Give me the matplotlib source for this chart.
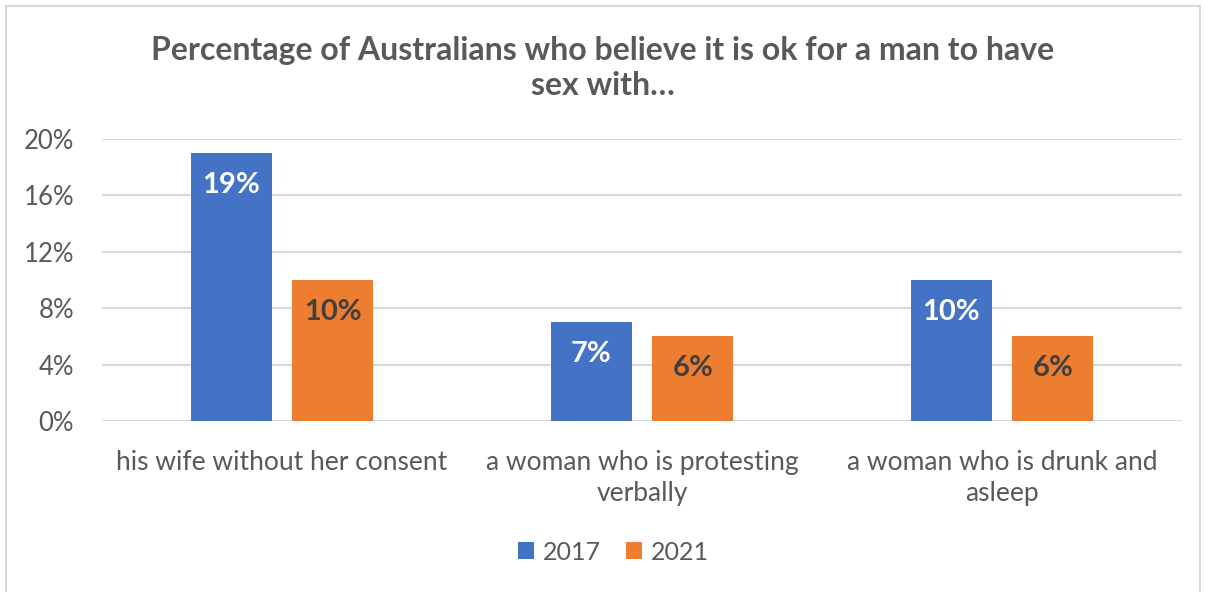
import matplotlib.pyplot as plt
import numpy as np
from matplotlib.patches import Rectangle

categories = ["his wife without her consent",
              "a woman who is protesting\nverbally",
              "a woman who is drunk and\nasleep"]
years = ["2017", "2021"]
values_2017 = [19, 7, 10]
values_2021 = [10, 6, 6]
yticks = [0, 4, 8, 12, 16, 20]

blue = "#4472C4"
orange = "#ED7D31"
gray = "#595959"

plt.rcParams['font.family'] = ['Lato', 'DejaVu Sans']

fig = plt.figure(figsize=(12.05, 5.92), dpi=100)
ax = fig.add_axes([102 / 1205, 1 - 421 / 592, 1080 / 1205, 282 / 592])

x = np.arange(len(categories))
w = 0.225
off = 0.141
b1 = ax.bar(x - off, values_2017, w, color=blue, label=years[0], zorder=3)
b2 = ax.bar(x + off, values_2021, w, color=orange, label=years[1], zorder=3)

for rect, v in zip(b1, values_2017):
    ax.text(rect.get_x() + rect.get_width() / 2, v - 2.25, f"{v}%", ha="center", va="center",
            color="white", fontsize=21, fontweight="bold", zorder=4)
for rect, v in zip(b2, values_2021):
    ax.text(rect.get_x() + rect.get_width() / 2, v - 2.25, f"{v}%", ha="center", va="center",
            color="#404040", fontsize=21, fontweight="bold", zorder=4)

ax.set_xlim(-0.5, 2.5)
ax.set_ylim(0, 20)
ax.set_yticks(yticks)
ax.set_yticklabels([f"{t}%" for t in yticks], fontsize=18.5, color=gray)
ax.set_xticks(x)
ax.set_xticklabels(categories, fontsize=19, color=gray, linespacing=1.3)
ax.tick_params(length=0)
ax.tick_params(axis="x", pad=21)
ax.tick_params(axis="y", pad=20)
ax.grid(axis="y", color="#d9d9d9", linewidth=1.5, zorder=0)
for s in ax.spines.values():
    s.set_visible(False)

fig.text(0.5, 1 - 68 / 592, "Percentage of Australians who believe it is ok for a man to have\nsex with…",
         ha="center", va="center", fontsize=23, fontweight="bold", color=gray, linespacing=1.25)

fig.legend(handles=[b1, b2], labels=years, loc="center", bbox_to_anchor=(0.509, 1 - 552 / 592),
           ncol=2, frameon=False, fontsize=18, labelcolor=gray, handlelength=0.65, handleheight=0.65,
           handletextpad=0.35, columnspacing=1.0)

fig.patches.append(Rectangle((6 / 1205, -0.1), 1194 / 1205, 1.1 - 6 / 592, transform=fig.transFigure,
                             fill=False, edgecolor="#d9d9d9", linewidth=1.5))

fig.savefig("out.png", dpi=100)
